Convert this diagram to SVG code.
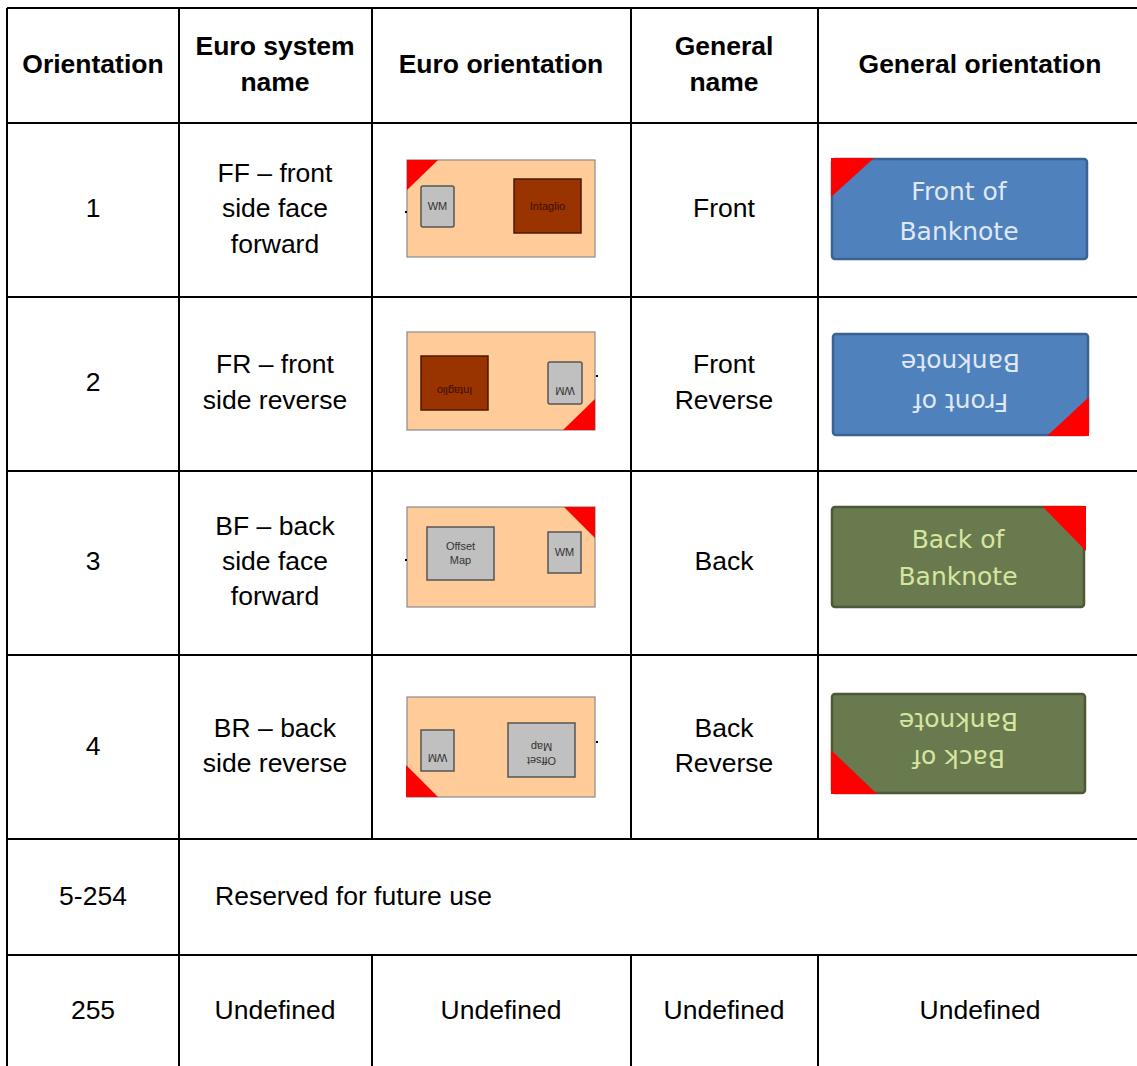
<svg xmlns="http://www.w3.org/2000/svg" width="1137" height="1066" viewBox="0 0 1137 1066">
<style>
.t{font-family:"Liberation Sans",Arial,sans-serif;font-size:26.5px;fill:#000;text-anchor:middle}
.b{font-weight:bold}
.g{stroke:#000;stroke-width:2;fill:none}
.note{fill:#ffcc99;stroke:#8a8a8a;stroke-width:1.2}
.wm{fill:#c0c0c0;stroke:#555;stroke-width:1.5}
.intg{fill:#993300;stroke:#4a1a00;stroke-width:1.5}
.st{font-family:"Liberation Sans",Arial,sans-serif;font-size:11px;fill:#333;text-anchor:middle}
.si{font-family:"Liberation Sans",Arial,sans-serif;font-size:11px;fill:#3a1000;text-anchor:middle}
.red{fill:#ff0000}
.blue{fill:#4f81bd;stroke:#3a6394;stroke-width:2.5}
.green{fill:#687a4e;stroke:#4c5837;stroke-width:2.5}
.bt{font-family:"DejaVu Sans",sans-serif;font-size:25px;text-anchor:middle}
.bw{fill:#dfe8f4}
.gw{fill:#d6e6a0}
</style>
<rect width="1137" height="1066" fill="#fff"/>
<g id="grid">
<path class="g" d="M7 8H1137M7 123H1137M7 297H1137M7 471H1137M7 655H1137M7 839H1137M7 955H1137"/>
<path class="g" d="M7 8V1066M179 8V1066M372 8V839M631 8V839M818 8V839M372 955V1066M631 955V1066M818 955V1066"/>
</g>
<g id="header">
<text class="t b" x="93" y="73">Orientation</text>
<text class="t b" x="275" y="55">Euro system</text>
<text class="t b" x="275" y="91">name</text>
<text class="t b" x="501" y="73">Euro orientation</text>
<text class="t b" x="724" y="55">General</text>
<text class="t b" x="724" y="91">name</text>
<text class="t b" x="980" y="73">General orientation</text>
</g>
<g id="row1">
<text class="t" x="93" y="217">1</text>
<text class="t" x="275" y="182">FF – front</text>
<text class="t" x="275" y="217">side face</text>
<text class="t" x="275" y="253">forward</text>
<text class="t" x="724" y="217">Front</text>
<g id="euro1">
<rect class="note" x="407" y="160" width="188" height="97"/>
<rect x="405" y="211" width="2" height="2" fill="#000"/>
<rect class="wm" x="421" y="186" width="33" height="41" rx="2"/>
<text class="st" x="437.5" y="210">WM</text>
<rect class="intg" x="514" y="179" width="67" height="54"/>
<text class="si" x="547.5" y="210">Intaglio</text>
<polygon class="red" points="407,160 438,160 407,190"/>
</g>
<g id="gen1">
<rect class="blue" x="832" y="159" width="255" height="100" rx="3"/>
<polygon class="red" points="831,158 874,158 831,197"/>
<text class="bt bw" x="959" y="200">Front of</text>
<text class="bt bw" x="959" y="240">Banknote</text>
</g>
</g>
<g id="row2">
<text class="t" x="93" y="391">2</text>
<text class="t" x="275" y="373">FR – front</text>
<text class="t" x="275" y="409">side reverse</text>
<text class="t" x="724" y="373">Front</text>
<text class="t" x="724" y="409">Reverse</text>
<g id="euro2">
<rect class="note" x="407" y="332" width="188" height="98"/>
<rect x="596" y="375" width="2" height="2" fill="#000"/>
<rect class="intg" x="421" y="356" width="67" height="54"/>
<text class="si" x="454.5" y="379" transform="rotate(180 454.5 383)">Intaglio</text>
<rect class="wm" x="548" y="362" width="34" height="42" rx="2"/>
<text class="st" x="565" y="379" transform="rotate(180 565 383)">WM</text>
<polygon class="red" points="595,399 595,430 563,430"/>
</g>
<g id="gen2">
<rect class="blue" x="833" y="334" width="255" height="101" rx="3"/>
<polygon class="red" points="1089,397 1089,436 1047,436"/>
<g transform="rotate(180 960.5 384.5)">
<text class="bt bw" x="960.5" y="375">Front of</text>
<text class="bt bw" x="960.5" y="415">Banknote</text>
</g>
</g>
</g>
<g id="row3">
<text class="t" x="93" y="570">3</text>
<text class="t" x="275" y="535">BF – back</text>
<text class="t" x="275" y="570">side face</text>
<text class="t" x="275" y="605">forward</text>
<text class="t" x="724" y="570">Back</text>
<g id="euro3">
<rect class="note" x="407" y="507" width="188" height="100"/>
<rect x="405" y="559" width="2" height="2" fill="#000"/>
<rect class="wm" x="427" y="527" width="67" height="53"/>
<text class="st" x="460.5" y="550">Offset</text>
<text class="st" x="460.5" y="564">Map</text>
<rect class="wm" x="548" y="532" width="33" height="41"/>
<text class="st" x="564.5" y="556">WM</text>
<polygon class="red" points="564,507 595,507 595,538"/>
</g>
<g id="gen3">
<rect class="green" x="832" y="507" width="252" height="100" rx="3"/>
<polygon class="red" points="1042,506 1086,506 1086,551"/>
<text class="bt gw" x="958" y="548">Back of</text>
<text class="bt gw" x="958" y="585">Banknote</text>
</g>
</g>
<g id="row4">
<text class="t" x="93" y="755">4</text>
<text class="t" x="275" y="737">BR – back</text>
<text class="t" x="275" y="772">side reverse</text>
<text class="t" x="724" y="737">Back</text>
<text class="t" x="724" y="772">Reverse</text>
<g id="euro4">
<rect class="note" x="407" y="697" width="188" height="100"/>
<rect x="596" y="741" width="2" height="2" fill="#000"/>
<rect class="wm" x="421" y="730" width="33" height="41"/>
<text class="st" x="437.5" y="746" transform="rotate(180 437.5 750)">WM</text>
<rect class="wm" x="508" y="723" width="67" height="54"/>
<text class="st" x="541.5" y="743" transform="rotate(180 541.5 750)">Offset</text>
<text class="st" x="541.5" y="757" transform="rotate(180 541.5 750)">Map</text>
<polygon class="red" points="406,765 406,797 438,797"/>
</g>
<g id="gen4">
<rect class="green" x="832" y="694" width="253" height="99" rx="3"/>
<polygon class="red" points="831,750 831,794 877,794"/>
<g transform="rotate(180 958.5 743.5)">
<text class="bt gw" x="958.5" y="737">Back of</text>
<text class="bt gw" x="958.5" y="774">Banknote</text>
</g>
</g>
</g>
<g id="row5">
<text class="t" x="93" y="905">5-254</text>
<text class="t" x="215" y="905" style="text-anchor:start">Reserved for future use</text>
</g>
<g id="row6">
<text class="t" x="93" y="1019">255</text>
<text class="t" x="275" y="1019">Undefined</text>
<text class="t" x="501" y="1019">Undefined</text>
<text class="t" x="724" y="1019">Undefined</text>
<text class="t" x="980" y="1019">Undefined</text>
</g>
</svg>
